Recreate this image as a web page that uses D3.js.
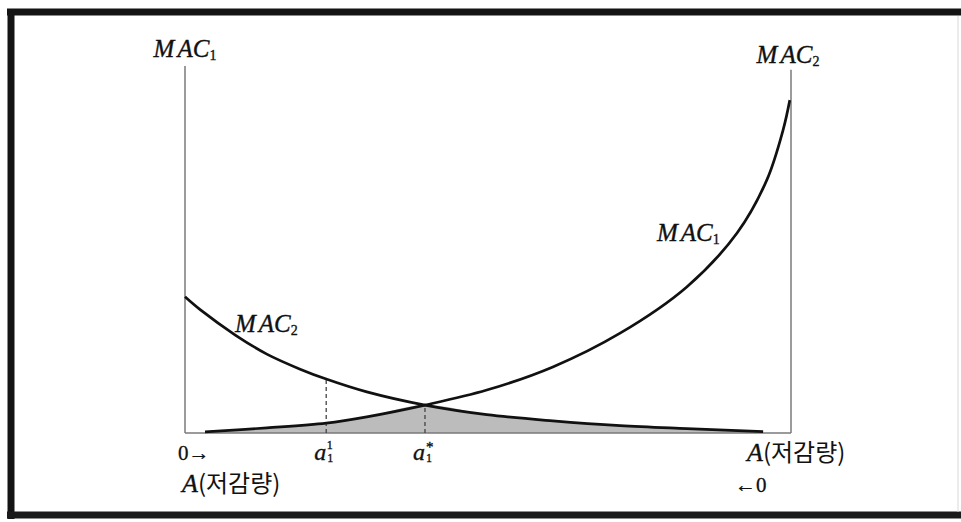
<!DOCTYPE html>
<html>
<head>
<meta charset="utf-8">
<script src="https://cdn.jsdelivr.net/npm/d3@7"></script>
<style>
  html, body { margin: 0; padding: 0; background: #fff; overflow: hidden; }
  svg { display: block; }
  .serif { font-family: "Liberation Serif", "DejaVu Serif", serif; font-style: italic; fill: #111; stroke: #111; stroke-width: 0.35; }
  .plain { font-family: "Liberation Serif", "DejaVu Serif", serif; fill: #111; stroke: #111; stroke-width: 0.3; }
  .kr { font-family: "Noto Sans CJK KR", sans-serif; font-style: normal; fill: #111; stroke: none; }
</style>
</head>
<body>
<svg id="chart" width="961" height="522"></svg>
<script>
// ---------- data ----------
// MAC1: marginal abatement cost of source 1, abatement measured from the left axis
const mac1X = [3.3, 13.5, 23.3, 30.0, 39.6, 49.8, 60.7, 71.8, 82.8, 91.1, 96.0, 98.7, 99.8];
const mac1Y = [0.3, 1.4, 2.7, 4.4, 7.6, 11.7, 18.0, 27.2, 39.8, 54.5, 68.9, 82.6, 90.7];
// MAC2: marginal abatement cost of source 2, abatement measured from the right axis
const mac2X = [0, 2.5, 8.3, 13.5, 19.0, 23.3, 30.0, 39.6, 49.8, 60.7, 71.8, 82.8, 95.4];
const mac2Y = [37.1, 33.6, 26.7, 21.5, 17.4, 14.7, 11.2, 7.6, 5.0, 3.3, 2.0, 1.2, 0.4];
// marked abatement levels
const markX = [23.3, 39.6];          // a1^1, a1^*
const markY = [14.7, 7.6];           // height of dashed guides
const tickLabels = ["0→", "a1^1", "a1^*", "A(저감량)"];
const tickX = [0, 23.3, 39.6, 100];
const bottomLabels = ["A(저감량)", "←0"];

// ---------- layout ----------
const svg = d3.select("#chart");
const x = d3.scaleLinear().domain([0, 100]).range([185, 791]);
const y = d3.scaleLinear().domain([0, 100]).range([433, 66]);

// frame
svg.append("rect").attr("x", 0).attr("y", 0).attr("width", 961).attr("height", 522).attr("fill", "#fff");
svg.append("line").attr("x1", 7).attr("x2", 961).attr("y1", 12).attr("y2", 12).attr("stroke", "#141414").attr("stroke-width", 7);
svg.append("line").attr("x1", 11).attr("x2", 11).attr("y1", 9).attr("y2", 519).attr("stroke", "#141414").attr("stroke-width", 7);
svg.append("line").attr("x1", 7).attr("x2", 961).attr("y1", 515).attr("y2", 515).attr("stroke", "#1a1a1a").attr("stroke-width", 7);
svg.append("line").attr("x1", 958).attr("x2", 958).attr("y1", 16).attr("y2", 512).attr("stroke", "#d8d8d8").attr("stroke-width", 1);

const curve = d3.curveCatmullRom.alpha(0.5);

// shaded region under min(MAC1, MAC2)
const iStar = mac1X.indexOf(markX[1]);
const jStar = mac2X.indexOf(markX[1]);
const shade = mac1X.slice(0, iStar + 1).map((v, i) => [v, mac1Y[i]])
  .concat(mac2X.slice(jStar + 1).map((v, i) => [v, mac2Y[jStar + 1 + i]]));
svg.append("path")
  .datum(shade)
  .attr("fill", "#bcbcbc")
  .attr("d", d3.area().x(d => x(d[0])).y0(y(0)).y1(d => y(d[1])).curve(curve));

// axes
const axisColor = "#7a7a7a";
svg.append("line").attr("x1", x(0)).attr("x2", x(0)).attr("y1", y(100)).attr("y2", y(0)).attr("stroke", axisColor).attr("stroke-width", 1.5);
svg.append("line").attr("x1", x(100)).attr("x2", x(100)).attr("y1", y(99)).attr("y2", y(0)).attr("stroke", axisColor).attr("stroke-width", 1.5);
svg.append("line").attr("x1", x(0)).attr("x2", x(100)).attr("y1", y(0)).attr("y2", y(0)).attr("stroke", axisColor).attr("stroke-width", 1.5);

// dashed guides
markX.forEach((m, i) => {
  svg.append("line").attr("x1", x(m)).attr("x2", x(m)).attr("y1", y(0)).attr("y2", y(markY[i]))
    .attr("stroke", "#444").attr("stroke-width", 1.3).attr("stroke-dasharray", "4,3");
});

// curves
const line = d3.line().x(d => x(d[0])).y(d => y(d[1])).curve(curve);
svg.append("path").datum(mac1X.map((v, i) => [v, mac1Y[i]]))
  .attr("fill", "none").attr("stroke", "#111").attr("stroke-width", 2.7).attr("d", line);
svg.append("path").datum(mac2X.map((v, i) => [v, mac2Y[i]]))
  .attr("fill", "none").attr("stroke", "#111").attr("stroke-width", 2.7).attr("d", line);

// MAC labels
function macLabel(px, py, sub, anchor) {
  const t = svg.append("text").attr("class", "serif").attr("x", px).attr("y", py)
    .attr("font-size", 25).attr("text-anchor", anchor || "start");
  t.append("tspan").text("M").attr("letter-spacing", 3);
  t.append("tspan").text("AC");
  t.append("tspan").text(sub).attr("font-size", 14).attr("dy", 3).attr("font-style", "normal");
  return t;
}
macLabel(x(0), 57, "1", "middle");
macLabel(x(100) - 3, 63, "2", "middle");
macLabel(235, 332, "2");
macLabel(657, 241, "1");

// tick labels row 1
const tickY = 460;
svg.append("text").attr("class", "plain").attr("x", x(tickX[0]) - 7).attr("y", tickY).attr("font-size", 21)
  .text(tickLabels[0]);
[1, 2].forEach(k => {
  const parts = tickLabels[k].split(/[\^]/);
  const base = parts[0][0], sub = parts[0].slice(1), sup = parts[1];
  const t = svg.append("text").attr("class", "serif").attr("x", x(tickX[k]) - 12).attr("y", tickY).attr("font-size", 24);
  t.append("tspan").text(base);
  t.append("tspan").attr("font-style", "normal").attr("font-size", 12).attr("dx", 1).attr("dy", 2).text(sub);
  t.append("tspan").attr("font-style", "normal").attr("font-size", sup === "*" ? 15 : 12)
    .attr("dx", -6).attr("dy", sup === "*" ? -10 : -13).text(sup);
});
function aLabel(px, py, txt) {
  const t = svg.append("text").attr("x", px).attr("y", py).attr("font-size", 24);
  t.append("tspan").attr("class", "serif").attr("font-size", 26).text(txt[0]);
  t.append("tspan").attr("class", "kr").text(txt.slice(1));
}
aLabel(x(100) - 44, tickY + 1, tickLabels[3]);
aLabel(x(0) - 3, 492, bottomLabels[0]);
svg.append("text").attr("class", "plain").attr("x", x(100) - 56).attr("y", 492).attr("font-size", 21)
  .text(bottomLabels[1]);
</script>
</body>
</html>
